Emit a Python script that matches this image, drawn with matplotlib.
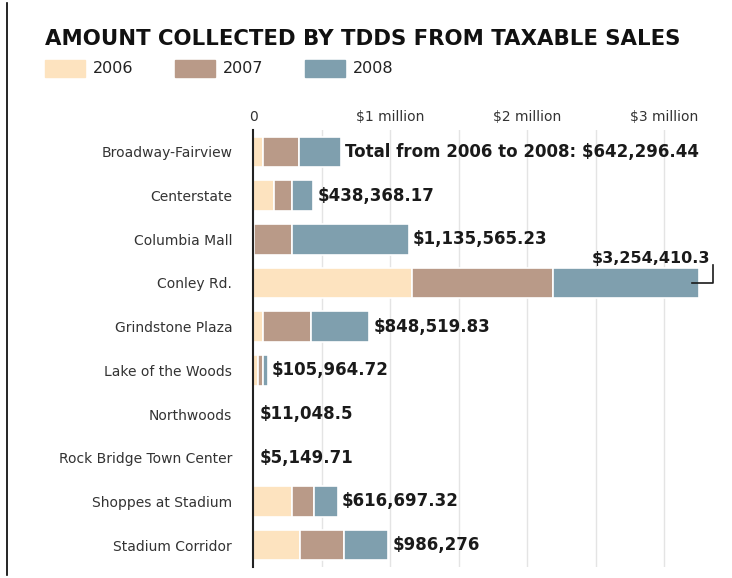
import numpy as np
import matplotlib
matplotlib.use('Agg')
import matplotlib.pyplot as plt
from matplotlib.patches import Rectangle
from matplotlib.lines import Line2D

#data (millions of dollars)
places = ["Broadway-Fairview", "Centerstate", "Columbia Mall", "Conley Rd.",
          "Grindstone Plaza", "Lake of the Woods", "Northwoods",
          "Rock Bridge Town Center", "Shoppes at Stadium", "Stadium Corridor"]
y2006 = [0.075, 0.150, 0.005, 1.160, 0.075, 0.035, 0.004, 0.002, 0.285, 0.343]
y2007 = [0.260, 0.135, 0.280, 1.030, 0.345, 0.035, 0.004, 0.002, 0.162, 0.322]
y2008 = [0.307, 0.153, 0.851, 1.064, 0.429, 0.036, 0.003, 0.001, 0.170, 0.321]
totals = [642296.44, 438368.17, 1135565.23, 3254410.3, 848519.83,
          105964.72, 11048.5, 5149.71, 616697.32, 986276]
total_labels = ["Total from 2006 to 2008: $642,296.44", "$438,368.17", "$1,135,565.23",
                "$3,254,410.3", "$848,519.83", "$105,964.72", "$11,048.5",
                "$5,149.71", "$616,697.32", "$986,276"]
years = ["2006", "2007", "2008"]
colors = ["#fde3bf", "#b99a88", "#7f9fae"]
tick_vals = [0, 1, 2, 3]
tick_labels = ["0", "$1 million", "$2 million", "$3 million"]

W, H = 732, 578
fig = plt.figure(figsize=(W / 100, H / 100), dpi=100)
fig.patch.set_facecolor('white')

#axes placed in pixel terms
x0, x1 = 253, 719
ytop, ybot = 130, 567
ax = fig.add_axes([x0 / W, 1 - ybot / H, (x1 - x0) / W, (ybot - ytop) / H])
xmax = 3.4
ax.set_xlim(0, xmax)
ax.set_ylim(len(places) - 0.5, -0.5)

for g in np.arange(0.5, 3.01, 0.5):
    ax.axvline(g, color='#e4e4e4', lw=1, zorder=0)

pos = np.arange(len(places))
left = np.zeros(len(places))
for vals, c in zip([y2006, y2007, y2008], colors):
    ax.barh(pos, vals, left=left, height=0.7, color=c, edgecolor='white',
            linewidth=1.2, zorder=2)
    left = left + np.array(vals)

for i, (tot, lab) in enumerate(zip(totals, total_labels)):
    end = tot / 1e6
    if places[i] == "Conley Rd.":
        ax.text(end + 0.08, i - 0.55, lab, ha='right', va='center',
                fontsize=11.5, fontweight='bold', color='#1a1a1a')
        ax.plot([end - 0.05, end + 0.1, end + 0.1], [i, i, i - 0.4],
                color='#1a1a1a', lw=1.2, zorder=3)
    else:
        ax.text(max(end, 0.02) + 0.03, i, lab, ha='left', va='center',
                fontsize=12, fontweight='bold', color='#1a1a1a')

ax.set_yticks(pos)
ax.set_yticklabels(places, fontsize=10, color='#333333')
ax.tick_params(axis='y', length=0, pad=15)
ax.set_xticks(tick_vals)
ax.set_xticklabels(tick_labels, fontsize=10, color='#333333')
ax.xaxis.tick_top()
ax.tick_params(axis='x', length=0, pad=4)
for s in ['top', 'right', 'bottom']:
    ax.spines[s].set_visible(False)
ax.spines['left'].set_color('#222222')
ax.spines['left'].set_linewidth(1.5)

#title and legend
fig.text(45 / W, 1 - 39 / H, "AMOUNT COLLECTED BY TDDS FROM TAXABLE SALES",
         fontsize=15.3, fontweight='heavy', ha='left', va='center', color='#111111')
leg_x = [45, 175, 305]
for lx, yr, c in zip(leg_x, years, colors):
    fig.patches.append(Rectangle((lx / W, 1 - 77 / H), 40 / W, 17 / H,
                                 transform=fig.transFigure, color=c))
    fig.text((lx + 48) / W, 1 - 69 / H, yr, fontsize=11.5, ha='left',
             va='center', color='#222222')

#left frame line
fig.add_artist(Line2D([7 / W, 7 / W], [0.005, 0.995], color='black', lw=1.2,
                      transform=fig.transFigure))

fig.savefig('out.png', dpi=100)
